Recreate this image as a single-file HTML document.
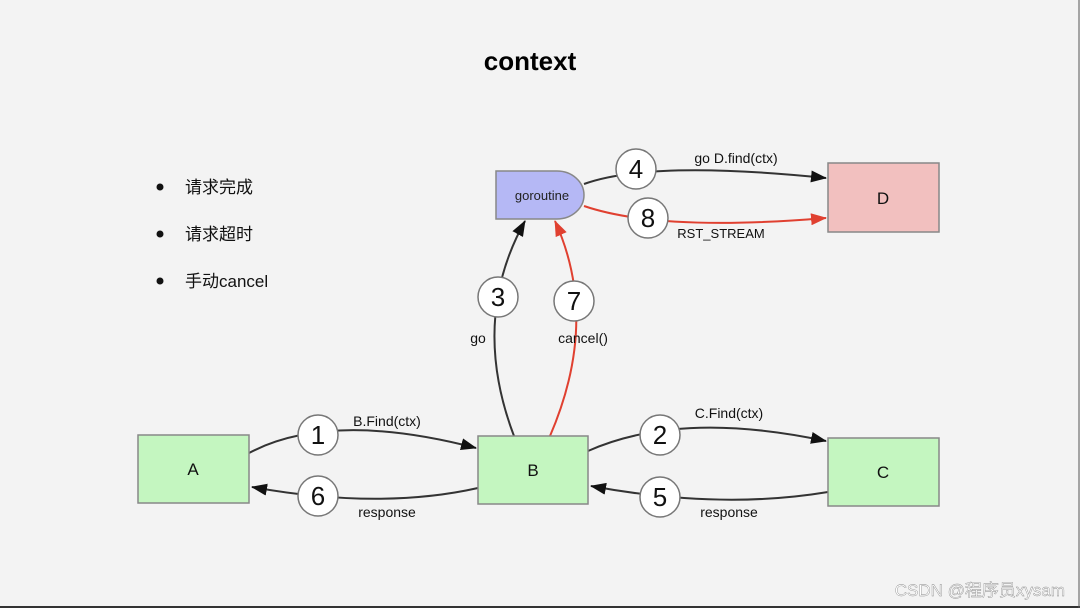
<!DOCTYPE html>
<html><head><meta charset="utf-8"><style>
body{margin:0;background:#f3f3f3;}
svg{display:block}
text{font-family:"Liberation Sans","Noto Sans CJK SC",sans-serif;}
</style></head><body>
<svg width="1080" height="608" viewBox="0 0 1080 608">
<rect width="1080" height="608" fill="#f3f3f3"/>
<line x1="0" y1="607" x2="1080" y2="607" stroke="#333" stroke-width="2"/>
<line x1="1079" y1="0" x2="1079" y2="608" stroke="#555" stroke-width="1"/>
<text x="530" y="70" font-size="26" font-weight="bold" text-anchor="middle" fill="#000">context</text>
<g font-size="17" fill="#111">
<circle cx="160" cy="187" r="3.5" fill="#111"/><text x="185" y="193">请求完成</text>
<circle cx="160" cy="234" r="3.5" fill="#111"/><text x="185" y="240">请求超时</text>
<circle cx="160" cy="281" r="3.5" fill="#111"/><text x="185" y="287">手动cancel</text>
</g>
<defs>
<marker id="ak" markerWidth="16" markerHeight="12" refX="15" refY="6" orient="auto" markerUnits="userSpaceOnUse"><path d="M0,0 L16,6 L0,12 z" fill="#111"/></marker>
<marker id="ar" markerWidth="16" markerHeight="12" refX="15" refY="6" orient="auto" markerUnits="userSpaceOnUse"><path d="M0,0 L16,6 L0,12 z" fill="#e04030"/></marker>
</defs>
<g fill="none" stroke-width="2">
<path d="M249,453 Q330,410 476,448" stroke="#333" marker-end="url(#ak)"/>
<path d="M478,488 Q380,510 252,487" stroke="#333" marker-end="url(#ak)"/>
<path d="M588,451 Q680,410 826,441" stroke="#333" marker-end="url(#ak)"/>
<path d="M828,492 Q720,510 591,486" stroke="#333" marker-end="url(#ak)"/>
<path d="M514,436 Q470,320 525,221" stroke="#333" marker-end="url(#ak)"/>
<path d="M550,436 Q600,320 555,221" stroke="#e04030" marker-end="url(#ar)"/>
<path d="M584,184 Q650,160 826,178" stroke="#333" marker-end="url(#ak)"/>
<path d="M584,206 Q660,232 826,218" stroke="#e04030" marker-end="url(#ar)"/>
</g>
<g stroke="#888" stroke-width="1.5">
<rect x="138" y="435" width="111" height="68" fill="#c4f6c0"/>
<rect x="478" y="436" width="110" height="68" fill="#c4f6c0"/>
<rect x="828" y="438" width="111" height="68" fill="#c4f6c0"/>
<rect x="828" y="163" width="111" height="69" fill="#f2c0bf"/>
<path d="M496,171 H557 A27,24 0 0 1 557,219 H496 Z" fill="#b5b8f5"/>
</g>
<g font-size="17" text-anchor="middle" fill="#111">
<text x="193" y="475">A</text><text x="533" y="476">B</text><text x="883" y="478">C</text><text x="883" y="204">D</text>
</g>
<text x="542" y="200" font-size="13" text-anchor="middle" fill="#222">goroutine</text>
<g fill="#fff" stroke="#777" stroke-width="1.5">
<circle cx="318" cy="435" r="20"/><circle cx="318" cy="496" r="20"/>
<circle cx="660" cy="435" r="20"/><circle cx="660" cy="497" r="20"/>
<circle cx="498" cy="297" r="20"/><circle cx="574" cy="301" r="20"/>
<circle cx="636" cy="169" r="20"/><circle cx="648" cy="218" r="20"/>
</g>
<g font-size="26" text-anchor="middle" fill="#111">
<text x="318" y="444">1</text><text x="318" y="505">6</text>
<text x="660" y="444">2</text><text x="660" y="506">5</text>
<text x="498" y="306">3</text><text x="574" y="310">7</text>
<text x="636" y="178">4</text><text x="648" y="227">8</text>
</g>
<g font-size="14" fill="#111" text-anchor="middle">
<text x="387" y="426">B.Find(ctx)</text>
<text x="387" y="517">response</text>
<text x="729" y="418">C.Find(ctx)</text>
<text x="729" y="517">response</text>
<text x="478" y="343">go</text>
<text x="583" y="343">cancel()</text>
<text x="736" y="163">go D.find(ctx)</text>
<text x="721" y="238" font-size="13">RST_STREAM</text>
</g>
<text x="1065" y="596" font-size="17" text-anchor="end" fill="#fff" stroke="#888" stroke-width="0.4">CSDN @程序员xysam</text>
</svg>
</body></html>
